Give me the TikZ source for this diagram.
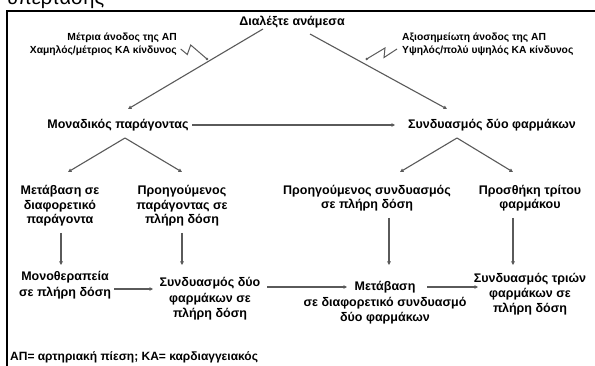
\documentclass[tikz,border=0pt]{standalone}
\usepackage{fontspec}
\setmainfont{Liberation Sans}
\usetikzlibrary{arrows.meta}
\definecolor{lnc}{HTML}{5A5A5A}
\tikzset{
  lbl/.style={font=\bfseries\fontsize{12.5}{#1}\selectfont, align=center, inner sep=0pt, anchor=base},
  lbl/.default=15,
  ann/.style={font=\bfseries\fontsize{10.3}{13.5}\selectfont, inner sep=0pt},
  con/.style={draw=lnc, line width=1.1pt, -{Triangle[length=3.5pt,width=3.5pt]}},
  zig/.style={draw=lnc, line width=1pt},
}
\begin{document}
\begin{tikzpicture}[x=1pt,y=-1pt]
\useasboundingbox (0,0) rectangle (595,366);
\clip (0,0) rectangle (595,366);
\fill[white] (0,0) rectangle (595,366);
% cut-off heading and frame
\node[anchor=base west, inner sep=0pt, font=\fontsize{20}{20}\selectfont] (hd) at (7,5) {υπέρτασης};
\draw[line width=1.4pt] (600,11) -- (7,11) -- (7,370);
% top
\node[lbl] (top) at (292,26) {Διαλέξτε ανάμεσα};
\node[ann, align=right, anchor=base east] (annl) at (177,54) {Μέτρια άνοδος της ΑΠ\\Χαμηλός/μέτριος ΚΑ κίνδυνος};
\node[ann, align=left, anchor=base west] (annr) at (402,54) {Αξιοσημείωτη άνοδος της ΑΠ\\Υψηλός/πολύ υψηλός ΚΑ κίνδυνος};
% zigzags
\coordinate (zl1) at (180.7,49);
\coordinate (zl2) at (187.3,54.5);
\coordinate (zl3) at (190.7,45);
\coordinate (zl4) at (207,59);
\draw[zig] (zl1) -- (zl2) -- (zl3) -- (zl4);
\fill[lnc] (zl4) circle (1.4pt);
\coordinate (zr1) at (366.7,59);
\coordinate (zr2) at (385,48);
\coordinate (zr3) at (384,57.5);
\coordinate (zr4) at (397,49);
\draw[zig] (zr1) -- (zr2) -- (zr3) -- (zr4);
\fill[lnc] (zr1) circle (1.4pt);
% row 1
\node[lbl] (mono) at (118,129) {Μοναδικός παράγοντας};
\node[lbl] (combo) at (492,129) {Συνδυασμός δύο φαρμάκων};
\coordinate (tl) at (263,29);
\coordinate (tr) at (310,34);
\coordinate (ml) at (128,109);
\coordinate (cr) at (447,109);
\draw[con] (tl) -- (ml);
\draw[con] (tr) -- (cr);
\coordinate (h1) at (192,125);
\coordinate (h2) at (395,125);
\draw[con] (h1) -- (h2);
% splits
\coordinate (al) at (125,138);
\coordinate (ar) at (457,138);
\coordinate (d1) at (68,172);
\coordinate (d2) at (182,172);
\coordinate (d3) at (400,172);
\coordinate (d4) at (513,172);
\draw[con] (al) -- (d1);
\draw[con] (al) -- (d2);
\draw[con] (ar) -- (d3);
\draw[con] (ar) -- (d4);
% row 2 (base = last line)
\node[lbl=14.5] (sw) at (60,224) {Μετάβαση σε\\διαφορετικό\\παράγοντα};
\node[lbl=14.5] (pf) at (182,224) {Προηγούμενος\\παράγοντας σε\\πλήρη δόση};
\node[lbl=14] (pc) at (367,209) {Προηγούμενος συνδυασμός\\σε πλήρη δόση};
\node[lbl=14] (add) at (530,209) {Προσθήκη τρίτου\\φαρμάκου};
% verticals
\coordinate (v1a) at (61,233);  \coordinate (v1b) at (61,265);
\coordinate (v2a) at (182,233); \coordinate (v2b) at (182,265);
\coordinate (v3a) at (389,218); \coordinate (v3b) at (389,265);
\coordinate (v4a) at (513,218); \coordinate (v4b) at (513,265);
\draw[con] (v1a) -- (v1b);
\draw[con] (v2a) -- (v2b);
\draw[con] (v3a) -- (v3b);
\draw[con] (v4a) -- (v4b);
% row 3 (base = last line)
\node[lbl=16] (mt) at (65,297) {Μονοθεραπεία\\σε πλήρη δόση};
\node[lbl=15.5] (c2) at (210,318) {Συνδυασμός δύο\\φαρμάκων σε\\πλήρη δόση};
\node[lbl=15.5] (sc) at (385,322) {Μετάβαση\\σε διαφορετικό συνδυασμό\\δύο φαρμάκων};
\node[lbl=15.5] (c3) at (530,313) {Συνδυασμός τριών\\φαρμάκων σε\\πλήρη δόση};
\coordinate (r1a) at (114,289); \coordinate (r1b) at (153,289);
\coordinate (r2a) at (267,287); \coordinate (r2b) at (347,287);
\coordinate (r3a) at (427,287); \coordinate (r3b) at (478,287);
\draw[con] (r1a) -- (r1b);
\draw[con] (r2a) -- (r2b);
\draw[con] (r3a) -- (r3b);
% footnote
\node[ann, font=\bfseries\fontsize{12}{14}\selectfont, anchor=base west] (fn) at (10,360) {ΑΠ= αρτηριακή πίεση; ΚΑ= καρδιαγγειακός};
\end{tikzpicture}
\end{document}
